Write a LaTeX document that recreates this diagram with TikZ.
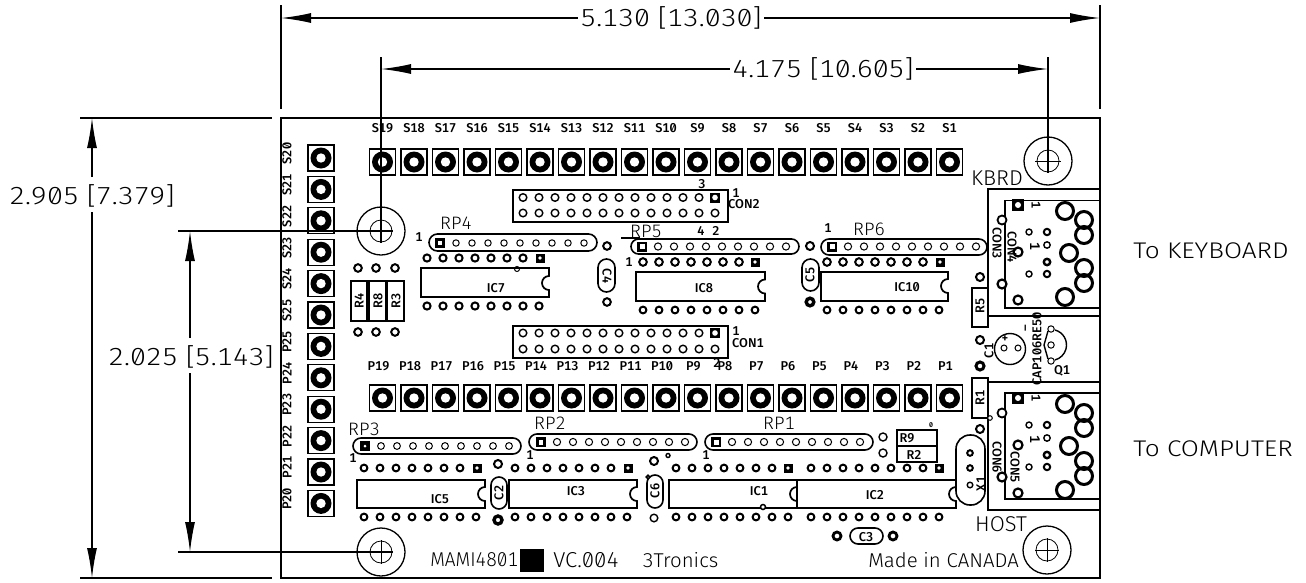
\documentclass[tikz,border=0pt]{standalone}
\usepackage{fontspec}
\setmainfont[RawFeature={+zero;+tnum}]{Fira Sans Medium}
\newfontfamily\dimfont[RawFeature={+zero;+tnum},FakeStretch=1.155]{Fira Sans Light}
\newfontfamily\cadfont[RawFeature={+zero;+tnum},FakeStretch=1.02]{Fira Sans Light}
\newfontfamily\mamifont[RawFeature={+zero;+tnum},FakeStretch=0.95]{Fira Sans Light}
\def\px{*0.75pt}
\usetikzlibrary{arrows.meta}
\tikzset{
  partline/.style={draw=black,line width=1.4\px},
  dimline/.style={draw=black,line width=1.4\px},
  dimarrow/.style={dimline,-{Latex[length=30\px,width=10\px]}},
  ringpin/.style={draw=black,fill=white,line width=1.4\px},
  thinpin/.style={draw=black,fill=white,line width=1\px},
  heavypin/.style={draw=black,fill=white,line width=2\px},
  dimtext/.style={font=\dimfont\fontsize{18.5}{20}\selectfont,inner sep=2pt,outer sep=0pt},
  sidetext/.style={font=\dimfont\fontsize{17}{20}\selectfont,inner sep=0pt},
  bigtext/.style={font=\cadfont\fontsize{15}{17}\selectfont,inner sep=0pt},
  mamitext/.style={font=\mamifont\fontsize{15}{17}\selectfont,inner sep=0pt},
  midtext/.style={font=\cadfont\fontsize{13.5}{15}\selectfont,inner sep=0pt},
  smalltext/.style={font=\fontsize{9.6}{11}\selectfont,inner sep=0pt},
}
% pin helpers
\newcommand\pinrow[5]{\foreach \k in {1,...,#3}{\pgfmathsetmacro\xx{#1+(\k-1)*16}\draw[#5] (\xx,#2) circle[radius=#4\px];}}
\newcommand\sqpin[2]{\fill[black] (#1-4.5,#2-4.5) rectangle (#1+4.5,#2+4.5);\fill[white] (#1,#2) circle[radius=1.8\px];}
\newcommand\icbody[5]{\draw[partline,line width=1.7\px,fill=white] (#1,#2) -- (#3,#2) -- (#3,#5-7) arc[start angle=90,end angle=270,radius=7\px] -- (#3,#4) -- (#1,#4) -- cycle;}
\newcommand\stadium[5]{\draw[partline,line width=1.6\px,rounded corners=#5\px] (#1,#2) rectangle (#3,#4);}
\newcommand\mhole[3]{\draw[line width=1.3\px] (#1,#2) circle[radius=24\px];\draw[line width=.8\px] (#1,#2) circle[radius=11\px];}
\newcommand\jackpins[2]{%
  \fill[black] (1012,#1+5-6) rectangle (1024,#1+5+6);\fill[white] (1018,#1+5) circle[radius=3\px];
  \draw[heavypin,line width=1.8\px] (1002,#1+20) circle[radius=4.5\px];
  \draw[heavypin,line width=2.2\px] (1018,#1+52) circle[radius=4.5\px];
  \draw[heavypin,line width=2.2\px] (1002,#1+84) circle[radius=4.5\px];
  \draw[heavypin,line width=2.2\px] (1018,#1+100) circle[radius=4.5\px];
  \draw[ringpin] (1029,#1+32) circle[radius=3\px];
  \draw[heavypin,line width=2\px] (1047,#1+32) circle[radius=3.2\px];
  \draw[ringpin] (1047,#1+45) circle[radius=3.2\px];
  \draw[heavypin,line width=2.4\px] (1047,#1+62) circle[radius=3.2\px];
  \draw[ringpin] (1029,#1+74) circle[radius=3\px];
  \draw[heavypin,line width=2\px] (1047,#1+74) circle[radius=3.2\px];
  \foreach \rx/\ry in {1065/11,1084/20,1084/35,1069/53,1084/68,1084/83,1065/97}{
    \draw[line width=3\px] (\rx,#1+\ry) circle[radius=8.5\px];}
  \node[smalltext,rotate=-90] (#2a) at (1036,#1+5) {1};
  \node[smalltext,rotate=-90,scale=1.1] (#2b) at (1035,#1+46) {1};
}
\begin{document}
\begin{tikzpicture}[x=0.75pt,y=-0.75pt]
\useasboundingbox (0,0) rectangle (1306,582);
\fill[white] (0,0) rectangle (1306,582);
% board
\draw[line width=1.5\px] (281,118) rectangle (1100,578);
% connector housings
\draw[partline,line width=1.6\px] (988,189) rectangle (1100,316);
\draw[partline,line width=1.6\px] (1005,200.5) rectangle (1100,308);
\draw[partline,line width=1.6\px] (988,382) rectangle (1100,510);
\draw[partline,line width=1.6\px] (1005,393) rectangle (1100,499);
\jackpins{200}{up}
\jackpins{393}{dn}
% top, bottom pads
\foreach \i in {1,...,19}{
  \pgfmathsetmacro\xa{382.5+(19-\i)*31.5}
  \draw[line width=1.3\px] (\xa-13,149) rectangle (\xa+13,175);
  \fill[black] (\xa,162) circle[radius=10.5\px];
  \fill[white] (\xa,162) circle[radius=4.7\px];
  \node[smalltext] (S\i) at (\xa,128) {S\i};
  \draw[line width=1.3\px] (\xa-13,385) rectangle (\xa+13,411);
  \fill[black] (\xa,398) circle[radius=10.5\px];
  \fill[white] (\xa,398) circle[radius=4.7\px];
  \pgfmathsetmacro\xb{\xa-4}
  \node[smalltext] (P\i) at (\xb,366) {P\i};
}
% left pads
\foreach \t [count=\c from 0] in {S20,S21,S22,S23,S24,S25,P25,P24,P23,P22,P21,P20}{
  \pgfmathsetmacro\ya{158+\c*31.4}
  \pgfmathsetmacro\yb{153.5+\c*31.4}
  \draw[line width=1.3\px] (308,\ya-13) rectangle (334,\ya+13);
  \fill[black] (321,\ya) circle[radius=10.5\px];
  \fill[white] (321,\ya) circle[radius=4.7\px];
  \node[smalltext,rotate=90] (L\t) at (287,\yb) {\t};
}
% CON2, CON1
\draw[partline,line width=1.7\px] (513,190) rectangle (728,222);
\pinrow{523}{197.5}{13}{3.8}{ringpin}
\pinrow{523}{213}{13}{3.8}{ringpin}
\fill[black] (710,192.5) rectangle (720,202.5);\fill[white] (715,197.5) circle[radius=2.8\px];
\node[smalltext] (n3) at (702,184) {3};
\node[smalltext] (n1a) at (736,193) {1};
\node[smalltext] (con2) at (744,204) {CON2};
\draw[partline,line width=1.7\px] (513,326) rectangle (728,358);
\pinrow{523}{333}{13}{3.8}{ringpin}
\pinrow{523}{349}{13}{3.8}{ringpin}
\fill[black] (710,328) rectangle (720,338);\fill[white] (715,333) circle[radius=2.8\px];
\node[smalltext] (n1b) at (736,331) {1};
\node[smalltext] (con1) at (748,343) {CON1};
\node[smalltext] (n2b) at (717,363) {2};
% RP4
\stadium{429}{234}{597}{251}{8.5}
\pinrow{440}{243}{10}{3.2}{thinpin}
\fill[black] (435,238) rectangle (445,248);\fill[white] (438,241) rectangle (442,245);
\node[midtext] (rp4) at (456,223) {RP4};
\node[smalltext] (r41) at (419,237) {1};
% IC7
\pinrow{427}{258}{7}{3.6}{heavypin}
\sqpin{540}{258}
\pinrow{427}{306}{8}{3.6}{heavypin}
\icbody{421}{268}{549}{297}{283}
\draw[line width=1\px] (517,269) circle[radius=2.5\px];
\node[smalltext] (ic7) at (496,288) {IC7};
% R4 R8 R3
\draw[partline] (351,281) rectangle (367,321);
\draw[partline] (369,281) rectangle (386,321);
\draw[partline] (387,281) rectangle (404,321);
\node[smalltext,rotate=90] (r4) at (359,301) {R4};
\node[smalltext,rotate=90] (r8) at (378,301) {R8};
\node[smalltext,rotate=90] (r3) at (396,301) {R3};
\foreach \xc in {358,376,395}{
  \draw[heavypin] (\xc,268) circle[radius=3.8\px];
  \draw[heavypin] (\xc,332) circle[radius=3.8\px];}
% C4
\stadium{598}{259}{615}{292}{8.5}
\node[smalltext,rotate=-90] (c4) at (607,276) {C4};
\draw[heavypin] (607,246) circle[radius=3.8\px];
\draw[heavypin] (607,302) circle[radius=3.8\px];
% RP5
\stadium{631}{239}{799}{254}{7.5}
\pinrow{642}{246.5}{10}{3.6}{thinpin}
\fill[black] (637,241.5) rectangle (647,251.5);\fill[white] (639.5,244) rectangle (644.5,249);
\draw[line width=1.2\px] (621,238) -- (640,238);
\node[midtext] (rp5) at (646,231) {RP5};
\node[smalltext] (n4) at (701,231) {4};
\node[smalltext] (n2) at (716,231) {2};
\node[smalltext] (r51) at (629,262) {1};
% IC8
\pinrow{643}{262}{7}{3.8}{heavypin}
\sqpin{755}{262}
\pinrow{643}{310}{8}{3.4}{heavypin}
\icbody{636}{272}{765}{301}{286.5}
\node[smalltext] (ic8) at (704,288) {IC8};
% C5
\draw[heavypin] (810,246) circle[radius=4\px];
\draw[heavypin,line width=3.4\px] (810,302) circle[radius=3.8\px];
\stadium{802}{259}{819}{291}{8.5}
\node[smalltext,rotate=90] (c5) at (810,275) {C5};
% RP6
\stadium{821}{239}{987}{255}{8}
\pinrow{832}{246.5}{10}{3.6}{thinpin}
\fill[black] (827,241.5) rectangle (837,251.5);\fill[white] (829.5,244) rectangle (834.5,249);
\node[smalltext] (r61) at (828,228) {1};
\node[midtext] (rp6) at (869,229) {RP6};
% IC10
\pinrow{827}{262}{7}{3.8}{heavypin}
\sqpin{940}{262}
\pinrow{827}{310}{8}{3.4}{heavypin}
\icbody{821}{272}{948}{301}{286}
\node[smalltext] (ic10) at (907,287) {IC10};
% R5, neighbours
\draw[partline] (972,288) rectangle (988,327);
\node[smalltext,rotate=90] (r5) at (980,306) {R5};
\draw[heavypin] (980,277) circle[radius=4\px];
\draw[heavypin] (980,340) circle[radius=4\px];
\draw[heavypin,line width=3\px] (980,366) circle[radius=4\px];
\node[smalltext,rotate=-90] (con3) at (997,243) {CON3};
\node[smalltext,rotate=-90] (con4) at (1012,247) {CON4};
\node[bigtext,scale=1.07] (kbrd) at (997,178) {KBRD};
\node[bigtext,scale=1.07] (host) at (1001,524) {HOST};
% C1, CAP, Q1
\draw[partline] (1010,349) circle[radius=15.5\px];
\draw[thinpin] (1004,348) circle[radius=3\px];
\draw[thinpin] (1018,348) circle[radius=3\px];
\node[smalltext] (cplus) at (1005,339) {+};
\node[smalltext,rotate=90] (c1) at (989,351) {C1};
\node[smalltext,rotate=90] (cminus) at (1027,328) {--};
\node[smalltext,rotate=90] (capre) at (1037,349) {CAP106RE50};
\draw[partline] (1055,330) arc[start angle=75,end angle=-75,radius=15.5\px];
\draw[partline] (1048,331) -- (1044,345) -- (1048,359);
\draw[thinpin] (1051,329) circle[radius=3.2\px];
\draw[thinpin] (1051,345) circle[radius=3.2\px];
\draw[thinpin] (1051,361) circle[radius=3.2\px];
\node[smalltext] (q1) at (1062,371) {Q1};
% R1
\draw[partline] (972,378) rectangle (988,418);
\node[smalltext,rotate=90] (r1) at (980,398) {R1};
\draw[thinpin] (990,418) circle[radius=2.3\px];
\draw[heavypin] (980,429) circle[radius=4\px];
\node[smalltext,rotate=-90] (con6) at (997,457) {CON6};
\node[smalltext,rotate=-90] (con5) at (1015,467) {CON5};
% RP3
\stadium{353}{438}{521}{454}{8}
\pinrow{365}{446}{10}{3.4}{thinpin}
\fill[black] (360,441) rectangle (370,451);\fill[white] (365,446) circle[radius=1.5\px];
\node[midtext] (rp3) at (364,429) {RP3};
\node[smalltext] (r31) at (353,458) {1};
% IC5
\pinrow{364}{468}{7}{3.4}{heavypin}
\sqpin{477}{468}
\pinrow{364}{517}{8}{3.4}{heavypin}
\icbody{357}{480}{485}{508}{494}
\node[smalltext] (ic5) at (440,499) {IC5};
% C2
\stadium{491}{477}{507}{509}{8}
\node[smalltext,rotate=90] (c2) at (499,493) {C2};
\draw[heavypin] (498,464) circle[radius=4\px];
\draw[heavypin,line width=3.4\px] (498,520) circle[radius=4\px];
% RP2
\stadium{529}{434}{697}{450}{8}
\pinrow{541}{442}{10}{3.6}{thinpin}
\fill[black] (536,437) rectangle (546,447);\fill[white] (539,439.5) rectangle (543,444.5);
\node[midtext] (rp2) at (550,423) {RP2};
\node[smalltext] (r21) at (530,455) {1};
% IC3
\pinrow{515}{468}{7}{3.4}{heavypin}
\sqpin{628}{468}
\pinrow{515}{517}{8}{3.4}{heavypin}
\icbody{509}{480}{637}{508}{494}
\node[smalltext] (ic3) at (576,491) {IC3};
% C6
\draw[heavypin,line width=2\px] (654,461) circle[radius=4\px];
\draw[ringpin] (668,455.5) circle[radius=2\px];
\stadium{647}{475}{663}{508}{8}
\draw[heavypin,line width=1.5\px] (648,477) circle[radius=1.8\px];
\node[smalltext,rotate=90] (c6) at (655,491) {C6};
\draw[ringpin] (654,518) circle[radius=3.8\px];
% RP1
\stadium{705}{434}{873}{450}{8}
\pinrow{716}{442}{10}{3.6}{thinpin}
\fill[black] (711,437) rectangle (721,447);\fill[white] (714,439.5) rectangle (719,444.5);
\node[midtext] (rp1) at (779,423) {RP1};
\node[smalltext] (r11) at (706,455) {1};
% IC1, IC2
\pinrow{676}{468}{7}{3.4}{heavypin}
\sqpin{788}{468}
\pinrow{676}{517}{8}{3.4}{heavypin}
\pinrow{811}{468}{8}{3.4}{heavypin}
\sqpin{939}{468}
\pinrow{811}{517}{9}{3.4}{heavypin}
\icbody{669}{480}{797}{508}{494}
\icbody{797}{480}{956}{508}{494}
\draw[heavypin,line width=1.5\px] (763,507) circle[radius=2.5\px];
\node[smalltext] (ic1) at (759,491) {IC1};
\node[smalltext] (ic2) at (875,495) {IC2};
% R9, R2
\draw[partline,line width=1.6\px] (897,430) rectangle (937,446);
\draw[partline,line width=1.6\px] (897,446) rectangle (937,462);
\node[smalltext] (r9) at (907,438.5) {R9};
\node[smalltext] (r2) at (914,454.5) {R2};
\node[smalltext,scale=.55] (r0) at (931,425.5) {0};
\draw[ringpin] (883,437) circle[radius=4\px];
\draw[ringpin] (883,453) circle[radius=4\px];
% X1
\draw[partline,line width=1.6\px,fill=white,rounded corners=14\px] (956,435) rectangle (985,505);
\draw[heavypin] (970,453) circle[radius=2.8\px];
\draw[heavypin] (970,468) circle[radius=2.8\px];
\draw[ringpin] (970,485) circle[radius=2.8\px];
\node[smalltext,rotate=90] (x1) at (981,484) {X1};
% C3
\stadium{850}{528}{883}{544}{8}
\node[smalltext] (c3) at (866,537) {C3};
\draw[heavypin,line width=2.8\px] (837,536) circle[radius=4\px];
\draw[heavypin,line width=2.8\px] (893,536) circle[radius=4\px];
% footer text
\node[mamitext,anchor=west] (mami) at (430,560) {MAMI4801};
\fill[black] (520,549) rectangle (544,572);
\node[bigtext,anchor=west,scale=1.08] (vc) at (553,560) {VC.004};
\node[bigtext,anchor=west] (tron) at (642,560) {3Tronics};
\node[bigtext,anchor=west] (made) at (868,560) {Made in CANADA};
\node[sidetext,anchor=west] (tokb) at (1133,251) {To KEYBOARD};
\node[sidetext,anchor=west] (toco) at (1133,449) {To COMPUTER};
% mounting holes
\mhole{381}{231}{a}
\mhole{381}{552}{b}
\mhole{1048}{161}{c}
\mhole{1047}{550}{d}
\draw[line width=.8\px] (1047,538) -- (1047,562) (1035,550) -- (1059,550);
% dimensions
\coordinate (ax) at (281,18);
\coordinate (bx) at (1100,18);
\node[dimtext] (d1) at (671,18) {5.130 [13.030]};
\draw[dimarrow] (d1.west) -- (ax);
\draw[dimarrow] (d1.east) -- (bx);
\draw[dimline] (281,5) -- (281,109);
\draw[dimline] (1100,5) -- (1100,109);
\coordinate (cx) at (381,69);
\coordinate (dx) at (1048,69);
\node[dimtext] (d2) at (823,69) {4.175 [10.605]};
\draw[dimarrow] (d2.west) -- (cx);
\draw[dimarrow] (d2.east) -- (dx);
\draw[dimline] (381,57) -- (381,243);
\draw[dimline] (1048,57) -- (1048,173);
\draw[line width=.8\px] (1035,161) -- (1061,161);
\coordinate (ey) at (92,118);
\coordinate (fy) at (92,578);
\node[dimtext] (d3) at (92,196) {2.905 [7.379]};
\draw[dimarrow] (92,177) -- (ey);
\draw[dimarrow] (92,212) -- (fy);
\draw[dimline] (80,118) -- (272,118);
\draw[dimline] (80,578) -- (272,578);
\coordinate (gy) at (190,231);
\coordinate (hy) at (190,552);
\node[dimtext] (d4) at (191,357) {2.025 [5.143]};
\draw[dimarrow] (190,338) -- (gy);
\draw[dimarrow] (190,373) -- (hy);
\draw[dimline] (178,231) -- (393,231);
\draw[dimline] (178,552) -- (393,552);
\draw[line width=.8\px] (381,540) -- (381,564);
\end{tikzpicture}
\end{document}
